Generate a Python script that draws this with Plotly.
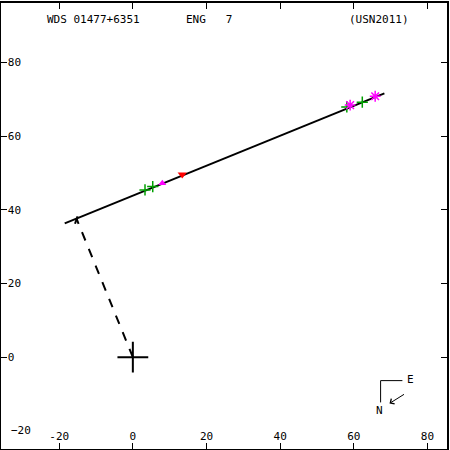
import plotly.graph_objects as go

# Orbit line (apparent ellipse seen edge-on) endpoints
orbit_x = [-18.5, 68.3]
orbit_y = [36.3, 71.6]
# Line of nodes / periastron dashed line
node_x = [0.0, -15.3]
node_y = [0.0, 37.6]
# Foot tick
tick_x = [-15.0, -15.7]
tick_y = [38.2, 36.2]

# Measurements
green_x = [3.3, 5.4, 58.1, 62.3]
green_y = [45.4, 46.3, 67.9, 69.2]
tri_x = [8.0]
tri_y = [47.2]
red_x = [13.4]
red_y = [49.6]
ast_x = [59.0, 65.8]
ast_y = [68.4, 70.8]

xticks = [-20, 0, 20, 40, 60, 80]
yticks = [-20, 0, 20, 40, 60, 80]

font = dict(family="DejaVu Sans Mono", size=11, color="black")

fig = go.Figure()
fig.add_trace(go.Scatter(x=orbit_x, y=orbit_y, mode="lines",
                         line=dict(color="black", width=2), hoverinfo="skip"))
fig.add_trace(go.Scatter(x=node_x, y=node_y, mode="lines",
                         line=dict(color="black", width=2, dash="dash"), hoverinfo="skip"))
fig.add_trace(go.Scatter(x=tick_x, y=tick_y, mode="lines",
                         line=dict(color="black", width=2), hoverinfo="skip"))
fig.add_trace(go.Scatter(x=[0], y=[0], mode="markers",
                         marker=dict(symbol="cross-thin-open", size=22, color="black",
                                     line=dict(color="black", width=2))))
fig.add_trace(go.Scatter(x=green_x, y=green_y, mode="markers",
                         marker=dict(symbol="cross-thin-open", size=8, color="#00a000",
                                     line=dict(color="#00a000", width=1.5))))
fig.add_trace(go.Scatter(x=tri_x, y=tri_y, mode="markers",
                         marker=dict(symbol="triangle-up", size=7, color="#ff00ff")))
fig.add_trace(go.Scatter(x=red_x, y=red_y, mode="markers",
                         marker=dict(symbol="triangle-down", size=8, color="#ff0000")))
fig.add_trace(go.Scatter(x=ast_x, y=ast_y, mode="markers",
                         marker=dict(symbol="asterisk-open", size=9, color="#ff00ff",
                                     line=dict(color="#ff00ff", width=1.5))))

axis_common = dict(showgrid=False, zeroline=False, showline=True, linecolor="black",
                   linewidth=2, mirror="ticks", ticks="inside", ticklen=6,
                   tickcolor="black", tickwidth=1, ticklabelposition="inside",
                   tickfont=font, fixedrange=True)
fig.update_xaxes(range=[-35.8, 85.3], tickvals=xticks,
                 ticktext=[str(v) for v in xticks], **axis_common)
fig.update_yaxes(range=[-24.9, 96.1], tickvals=yticks,
                 ticktext=[str(v) for v in yticks], **axis_common)

W = 450.0
def px(x):
    return x / W
def py(y):
    return 1 - y / W

annotations = [
    dict(text="WDS 01477+6351", x=px(44), y=py(17), xanchor="left"),
    dict(text="ENG   7", x=px(185), y=py(17), xanchor="left"),
    dict(text="(USN2011)", x=px(349), y=py(17), xanchor="left"),
    dict(text="E", x=px(413), y=py(380), xanchor="center"),
    dict(text="N", x=px(382), y=py(411), xanchor="center"),
]
for a in annotations:
    a.update(xref="paper", yref="paper", showarrow=False, yanchor="middle",
             font=font)
fig.update_layout(annotations=annotations)
# lowest y tick label (hidden by plotly's inside-label overlap logic)
fig.add_annotation(xref="paper", yref="y", x=px(8), y=yticks[0], xanchor="left",
                   yanchor="middle", text="\u2212" + str(abs(yticks[0])),
                   showarrow=False, font=font)
fig.add_annotation(xref="paper", yref="paper", x=px(392), y=py(404),
                   ax=16, ay=-10, axref="pixel", ayref="pixel",
                   text="", showarrow=True, arrowhead=4, arrowsize=1.2,
                   arrowwidth=1, arrowcolor="black")

fig.add_shape(type="line", xref="paper", yref="paper", x0=px(383), y0=py(381),
              x1=px(405), y1=py(381), line=dict(color="black", width=1))
fig.add_shape(type="line", xref="paper", yref="paper", x0=px(383), y0=py(381),
              x1=px(383), y1=py(403), line=dict(color="black", width=1))

fig.update_layout(width=450, height=450, showlegend=False,
                  margin=dict(l=1, r=1, t=1, b=1),
                  paper_bgcolor="white", plot_bgcolor="white")

fig.write_html("out.html", config={"displayModeBar": False},
               post_script="document.body.style.margin='0';")
